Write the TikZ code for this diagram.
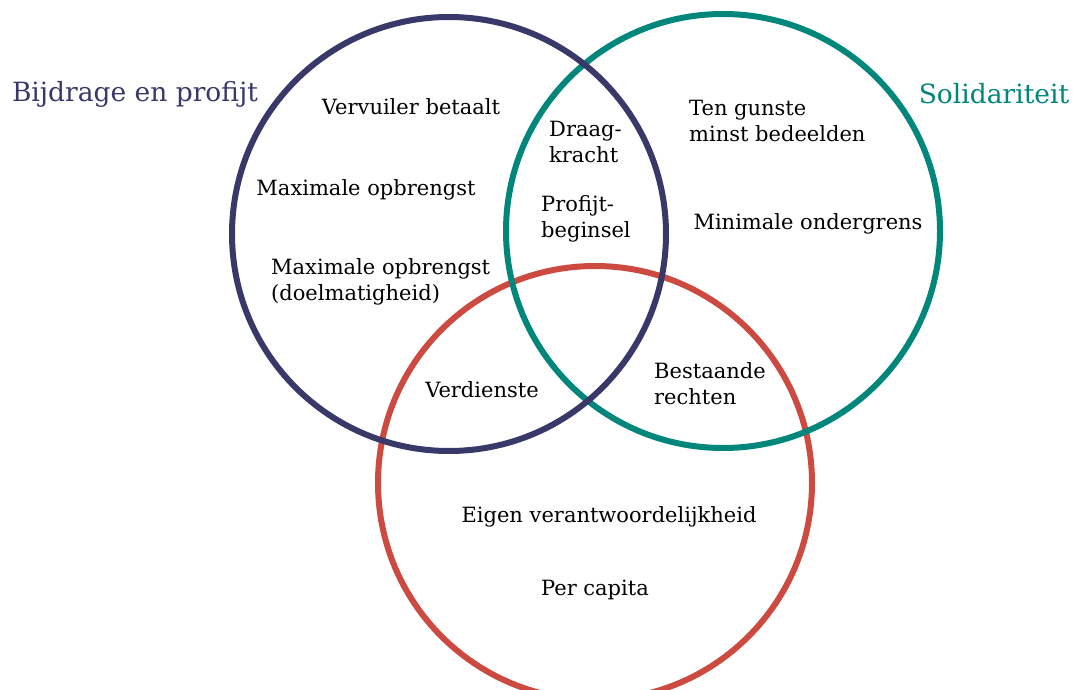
\documentclass[tikz,border=0pt]{standalone}
\usepackage{fontspec}
\setmainfont{DejaVu Serif}
\usepackage{xcolor}
\usepackage{tikz}
\definecolor{ringblue}{RGB}{56,57,104}
\definecolor{ringteal}{RGB}{0,134,122}
\definecolor{ringred}{RGB}{204,74,64}

\begin{document}
\begin{tikzpicture}[
  x=1pt, y=-1pt,
  ring/.style={circle, draw, line width=6pt, minimum size=434pt, inner sep=0pt},
  lbl/.style={font=\fontsize{21}{26}\selectfont, align=center, inner sep=0pt},
  lblleft/.style={lbl, align=left, anchor=west},
  heading/.style={font=\fontsize{26.5}{30}\selectfont, inner sep=0pt},
]
\useasboundingbox (0,0) rectangle (1074,690);
% rings, red below teal below blue
\node[ring, draw=ringred] (eigen) at (595,483) {};
\node[ring, draw=ringteal] (solid) at (723,231) {};
\node[ring, draw=ringblue] (bijdr) at (449,234) {};
% headings
\node[heading, text=ringblue] (hbijdr) at (135,94) {Bijdrage en profijt};
\node[heading, text=ringteal] (hsolid) at (994,94) {Solidariteit};
% blue only
\node[lbl] (vervuiler) at (411,107) {Vervuiler betaalt};
\node[lbl] (maxopb) at (366,190) {Maximale opbrengst};
\node[lblleft] (doelm) at (271,282) {Maximale opbrengst\\(doelmatigheid)};
% blue and teal
\node[lblleft] (draag) at (549,142) {Draag-\\kracht};
\node[lblleft] (profijt) at (541,219) {Profijt-\\beginsel};
% teal only
\node[lblleft] (gunste) at (689,121) {Ten gunste\\minst bedeelden};
\node[lbl] (ondergr) at (808,224) {Minimale ondergrens};
% with red
\node[lbl] (verdien) at (482,390) {Verdienste};
\node[lblleft] (bestaand) at (654,384) {Bestaande\\rechten};
\node[lbl] (verantw) at (609,517) {Eigen verantwoordelijkheid};
\node[lbl] (capita) at (595,590) {Per capita};
\end{tikzpicture}
\end{document}
